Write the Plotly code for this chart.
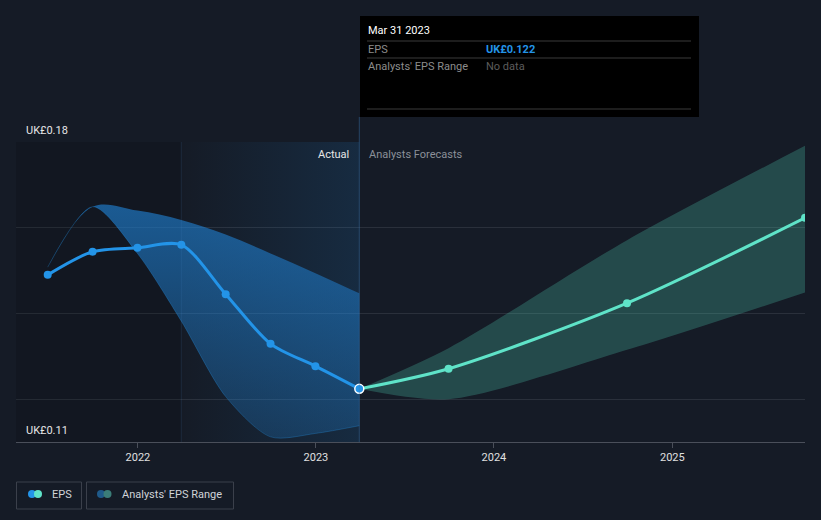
import plotly.graph_objects as go

# ---- data ----
eps_dates = ["2021-06-30", "2021-09-30", "2021-12-31", "2022-03-31",
             "2022-06-30", "2022-09-30", "2022-12-31", "2023-03-31"]
eps_values = [0.1490, 0.1544, 0.1553, 0.1560, 0.1445, 0.1329, 0.1277, 0.1224]

past_range_dates = ["2021-06-30", "2021-09-30", "2021-12-31", "2022-03-31",
                    "2022-06-30", "2022-09-30", "2022-12-31", "2023-03-31"]
past_range_high = [0.1508, 0.1649, 0.1640, 0.1618, 0.1584, 0.1540, 0.1494, 0.1447]
past_range_low = [0.1508, 0.1649, 0.1540, 0.1382, 0.1206, 0.1112, 0.1120, 0.1138]

fc_dates = ["2023-03-31", "2023-09-30", "2024-09-30", "2025-09-30"]
fc_values = [0.1224, 0.1271, 0.1424, 0.1623]
fc_high = [0.1224, 0.1319, 0.1571, 0.1791]
fc_low = [0.1224, 0.1200, 0.1315, 0.1449]

tick_vals = ["2022-01-01", "2023-01-01", "2024-01-01", "2025-01-01"]
tick_text = ["2022", "2023", "2024", "2025"]

BG = "#151b26"
BLUE = "#2394e8"
TEAL = "#5fe3c8"
FONT = "Roboto"

# plot area in pixels: x 16..805, y 142..442
L, R, T, B = 16, 805, 142, 442
W, H = R - L, B - T


def px(x):
    return (x - L) / W


def py(y):
    return (B - y) / H


fig = go.Figure()

# slightly darker region before the last year of actuals
fig.add_trace(go.Scatter(
    x=["2021-04-26", "2022-03-31", "2022-03-31", "2021-04-26", "2021-04-26"],
    y=[0.11, 0.11, 0.18, 0.18, 0.11],
    fill="toself", mode="lines", line=dict(width=0),
    fillcolor="rgba(0,0,0,0.12)", hoverinfo="skip", showlegend=False))

# highlighted "last year of actuals" region with horizontal gradient
fig.add_trace(go.Scatter(
    x=["2022-03-31", "2023-03-31", "2023-03-31", "2022-03-31", "2022-03-31"],
    y=[0.11, 0.11, 0.18, 0.18, 0.11],
    fill="toself", mode="lines", line=dict(width=0),
    fillgradient=dict(type="horizontal",
                      colorscale=[[0, "rgba(33,150,243,0.0)"], [1, "rgba(33,150,243,0.13)"]]),
    hoverinfo="skip", showlegend=False))

# past analyst range band
fig.add_trace(go.Scatter(x=past_range_dates, y=past_range_high, mode="lines",
                         line=dict(color="rgba(35,148,232,0.0)", width=0, shape="spline", smoothing=1),
                         hoverinfo="skip", showlegend=False))
fig.add_trace(go.Scatter(x=past_range_dates, y=past_range_low, mode="lines",
                         line=dict(color="rgba(35,148,232,0.35)", width=0.8, shape="spline", smoothing=0.8),
                         fill="tonexty",
                         fillgradient=dict(type="vertical",
                                           colorscale=[[0, "rgba(33,140,230,0.22)"],
                                                       [1, "rgba(33,140,230,0.58)"]]),
                         hoverinfo="skip", showlegend=False))

# forecast range band
fig.add_trace(go.Scatter(x=fc_dates, y=fc_high, mode="lines",
                         line=dict(color="rgba(95,227,200,0.0)", width=0, shape="spline", smoothing=0.8),
                         hoverinfo="skip", showlegend=False))
fig.add_trace(go.Scatter(x=fc_dates, y=fc_low, mode="lines",
                         line=dict(color="rgba(95,227,200,0.0)", width=0, shape="spline", smoothing=0.8),
                         fill="tonexty", fillcolor="rgba(88,224,196,0.24)",
                         hoverinfo="skip", showlegend=False))

# EPS actual line
fig.add_trace(go.Scatter(x=eps_dates, y=eps_values, mode="lines+markers",
                         line=dict(color=BLUE, width=3, shape="spline", smoothing=0.8),
                         marker=dict(size=8, color=BLUE),
                         hoverinfo="skip", showlegend=False))
# EPS forecast line
fig.add_trace(go.Scatter(x=fc_dates[1:], y=fc_values[1:], mode="markers",
                         marker=dict(size=8, color=TEAL),
                         hoverinfo="skip", showlegend=False))
fig.add_trace(go.Scatter(x=fc_dates, y=fc_values, mode="lines",
                         line=dict(color=TEAL, width=3, shape="spline", smoothing=0.8),
                         hoverinfo="skip", showlegend=False))
# hovered point
fig.add_trace(go.Scatter(x=[eps_dates[-1]], y=[eps_values[-1]], mode="markers",
                         marker=dict(size=9, color=BLUE, line=dict(color="white", width=1.5)),
                         hoverinfo="skip", showlegend=False))

shapes = []
# boundary line of highlighted region
shapes.append(dict(type="line", xref="x", yref="paper", x0="2022-03-31", x1="2022-03-31",
                   y0=0, y1=1, line=dict(color="rgba(80,140,200,0.15)", width=1)))
# hover line
shapes.append(dict(type="line", xref="x", yref="paper", x0="2023-03-31", x1="2023-03-31",
                   y0=0, y1=py(117), line=dict(color="rgba(60,120,180,0.45)", width=1)))
# tooltip box
shapes.append(dict(type="rect", xref="paper", yref="paper", x0=px(360), x1=px(699),
                   y0=py(117), y1=py(16), fillcolor="#000000", line=dict(width=0)))
for yy in (41, 58, 109):
    shapes.append(dict(type="line", xref="paper", yref="paper", x0=px(367), x1=px(691),
                       y0=py(yy), y1=py(yy), line=dict(color="#3a3a3a", width=1)))

# legend boxes
shapes.append(dict(type="rect", xref="paper", yref="paper", x0=px(16.5), x1=px(81.5),
                   y0=py(509), y1=py(482), line=dict(color="#3b404b", width=1),
                   fillcolor="rgba(0,0,0,0)"))
shapes.append(dict(type="rect", xref="paper", yref="paper", x0=px(86.5), x1=px(233.5),
                   y0=py(509), y1=py(482), line=dict(color="#3b404b", width=1),
                   fillcolor="rgba(0,0,0,0)"))


def circle(cx, cy, r, color):
    return dict(type="circle", xref="paper", yref="paper", x0=px(cx - r), x1=px(cx + r),
                y0=py(cy + r), y1=py(cy - r), fillcolor=color, line=dict(width=0))


shapes.append(circle(32, 494, 4, BLUE))
shapes.append(circle(38, 494, 4, TEAL))
shapes.append(circle(101, 494, 4, "#1f5a8a"))
shapes.append(circle(107.5, 494, 4, "#3b7d78"))

annotations = [
    dict(text="UK£0.18", x=px(24), y=py(130), xref="paper", yref="paper",
         xanchor="left", yanchor="middle", showarrow=False,
         font=dict(family=FONT, size=11, color="#e6e6e6")),
    dict(text="UK£0.11", x=px(24), y=py(430), xref="paper", yref="paper",
         xanchor="left", yanchor="middle", showarrow=False,
         font=dict(family=FONT, size=11, color="#e6e6e6")),
    dict(text="Actual", x=px(351), y=py(154), xref="paper", yref="paper",
         xanchor="right", yanchor="middle", showarrow=False,
         font=dict(family=FONT, size=11, color="#e6e6e6")),
    dict(text="Analysts Forecasts", x=px(367), y=py(154), xref="paper", yref="paper",
         xanchor="left", yanchor="middle", showarrow=False,
         font=dict(family=FONT, size=11, color="#8b9099")),
    # tooltip text
    dict(text="Mar 31 2023", x=px(366), y=py(31), xref="paper", yref="paper",
         xanchor="left", yanchor="middle", showarrow=False,
         font=dict(family=FONT, size=11, color="#ffffff")),
    dict(text="EPS", x=px(366), y=py(49.5), xref="paper", yref="paper",
         xanchor="left", yanchor="middle", showarrow=False,
         font=dict(family=FONT, size=11, color="#8c8c8c")),
    dict(text="<b>UK£0.122</b>", x=px(484), y=py(49.5), xref="paper", yref="paper",
         xanchor="left", yanchor="middle", showarrow=False,
         font=dict(family=FONT, size=11, color="#2394e8")),
    dict(text="Analysts' EPS Range", x=px(366), y=py(66.5), xref="paper", yref="paper",
         xanchor="left", yanchor="middle", showarrow=False,
         font=dict(family=FONT, size=11, color="#8c8c8c")),
    dict(text="No data", x=px(484), y=py(66.5), xref="paper", yref="paper",
         xanchor="left", yanchor="middle", showarrow=False,
         font=dict(family=FONT, size=11, color="#5c5c5c")),
    # legend text
    dict(text="EPS", x=px(50), y=py(494.5), xref="paper", yref="paper",
         xanchor="left", yanchor="middle", showarrow=False,
         font=dict(family=FONT, size=11, color="#d0d3d8")),
    dict(text="Analysts' EPS Range", x=px(120), y=py(494.5), xref="paper", yref="paper",
         xanchor="left", yanchor="middle", showarrow=False,
         font=dict(family=FONT, size=11, color="#d0d3d8")),
]

fig.update_layout(
    width=821, height=520,
    margin=dict(l=L, r=821 - R, t=T, b=520 - B),
    paper_bgcolor=BG, plot_bgcolor=BG,
    showlegend=False,
    shapes=shapes, annotations=annotations,
    font=dict(family=FONT),
    xaxis=dict(type="date", range=["2021-04-26", "2025-09-30"],
               tickvals=tick_vals, ticktext=tick_text,
               showgrid=False, zeroline=False,
               showline=True, linecolor="#4a4f5a", linewidth=1,
               ticks="outside", ticklen=5, tickcolor="#4a4f5a",
               tickfont=dict(family=FONT, size=11, color="#e0e0e0")),
    yaxis=dict(range=[0.11, 0.18], tickvals=[0.12, 0.14, 0.16, 0.18],
               showticklabels=False, showgrid=True, gridcolor="#2a303b", gridwidth=1,
               zeroline=False, showline=False),
)

fig.write_html("out.html", config={"displayModeBar": False},
               post_script="document.body.style.margin='0';document.body.style.background='#151b26';")
